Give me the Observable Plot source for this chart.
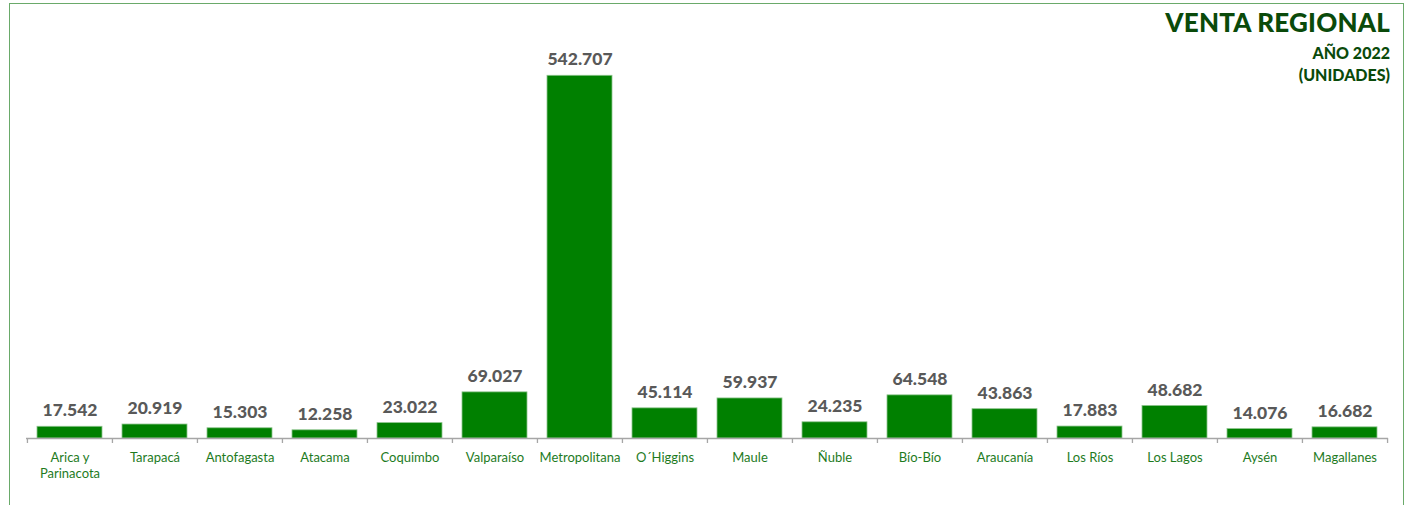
<!DOCTYPE html>
<html>
<head>
<meta charset="utf-8">
<script src="https://cdn.jsdelivr.net/npm/d3@7"></script>
<script src="https://cdn.jsdelivr.net/npm/@observablehq/plot@0.6"></script>
<style>
  html, body { margin: 0; padding: 0; background: #fff; }
  #wrap { position: relative; width: 1411px; height: 505px; overflow: hidden; }
  #border { position: absolute; left: 9px; top: 3px; width: 1395px; height: 520px; border: 1px solid #6aaa6a; box-sizing: border-box; pointer-events: none; }
  #title { position: absolute; right: 21px; top: 6px; text-align: right; color: #0a4a0a; font-family: Lato, sans-serif; font-weight: 900; }
  #title .t1 { font-size: 26px; line-height: 32px; letter-spacing: 0.2px; }
  #title .t2 { font-size: 16px; line-height: 22px; }
  #title .first { padding-top: 4px; }
  #chart { position: absolute; left: 0; top: 0; }
</style>
</head>
<body>
<div id="wrap">
  <div id="chart"></div>
  <div id="border"></div>
  <div id="title"></div>
</div>
<script>
const regions = ["Arica y\nParinacota", "Tarapacá", "Antofagasta", "Atacama", "Coquimbo", "Valparaíso", "Metropolitana", "O´Higgins", "Maule", "Ñuble", "Bío-Bío", "Araucanía", "Los Ríos", "Los Lagos", "Aysén", "Magallanes"];
const units = [17542, 20919, 15303, 12258, 23022, 69027, 542707, 45114, 59937, 24235, 64548, 43863, 17883, 48682, 14076, 16682];
const titleLines = ["VENTA REGIONAL", "AÑO 2022", "(UNIDADES)"];

const data = regions.map((r, i) => ({region: r, value: units[i]}));
const fmt = d3.formatLocale({decimal: ",", thousands: ".", grouping: [3], currency: ["$", ""]}).format(",d");

const W = 1411, H = 505, ML = 26, MR = 23, MT = 37, MB = 67;
const PI = 0.24, PO = 0.12;
const step = (W - ML - MR) / (regions.length - PI + 2 * PO);

const chart = Plot.plot({
  width: W,
  height: H,
  marginLeft: ML,
  marginRight: MR,
  marginTop: MT,
  marginBottom: MB,
  style: {fontFamily: "Lato, sans-serif", background: "transparent"},
  x: {domain: regions, paddingInner: PI, paddingOuter: PO, label: null},
  y: {domain: [0, 600000], axis: null},
  marks: [
    Plot.barY(data, {x: "region", y: "value", fill: "#008000", stroke: "#8cc48c", strokeWidth: 0.8}),
    Plot.ruleY([0], {stroke: "#a6a6a6", strokeWidth: 1.3}),
    Plot.ruleX(regions, {x: d => d, dx: -step / 2, y1: 0, y2: 0, insetBottom: -5, stroke: "#a6a6a6", strokeWidth: 1.3}),
    Plot.ruleX(regions.slice(-1), {x: d => d, dx: step / 2, y1: 0, y2: 0, insetBottom: -5, stroke: "#a6a6a6", strokeWidth: 1.3}),
    Plot.text(data, {x: "region", y: "value", text: d => fmt(d.value), dy: -16, fontSize: 17.5, fontWeight: 900, fill: "#595959"}),
    Plot.axisX({tickSize: 0, tickPadding: 12, fontSize: 13, color: "#1e7b1e", label: null, lineHeight: 1.25})
  ]
});
document.getElementById("chart").appendChild(chart);

const t = document.getElementById("title");
titleLines.forEach((s, i) => {
  const d = document.createElement("div");
  d.className = i === 0 ? "t1" : (i === 1 ? "t2 first" : "t2");
  d.textContent = s;
  t.appendChild(d);
});
</script>
</body>
</html>
